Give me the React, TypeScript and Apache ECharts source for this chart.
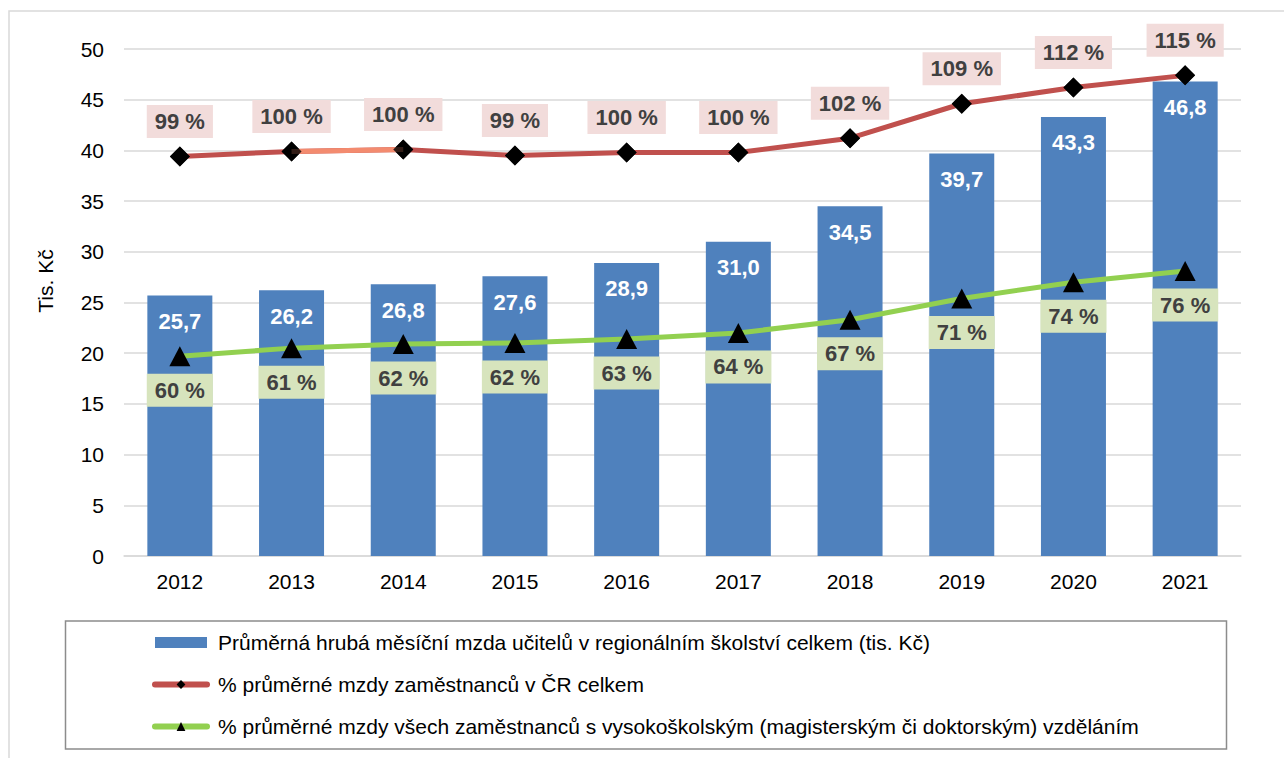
import React, { useEffect, useRef } from "react";
import * as echarts from "echarts";

const years = ["2012", "2013", "2014", "2015", "2016", "2017", "2018", "2019", "2020", "2021"];
const wages = [25.7, 26.2, 26.8, 27.6, 28.9, 31.0, 34.5, 39.7, 43.3, 46.8];
const redValues = [39.4, 39.9, 40.1, 39.5, 39.8, 39.8, 41.2, 44.6, 46.2, 47.4];
const redPct = [99, 100, 100, 99, 100, 100, 102, 109, 112, 115];
const greenValues = [19.7, 20.5, 20.9, 21.0, 21.4, 22.0, 23.3, 25.4, 27.0, 28.1];
const greenPct = [60, 61, 62, 62, 63, 64, 67, 71, 74, 76];
const yTicks = { min: 0, max: 50, interval: 5 };

const barName = "Průměrná hrubá měsíční mzda učitelů v regionálním školství celkem (tis. Kč)";
const redName = "% průměrné mzdy zaměstnanců v ČR celkem";
const greenName = "% průměrné mzdy všech zaměstnanců s vysokoškolským (magisterským či doktorským) vzděláním";
const axisTitle = "Tis. Kč";

const FONT = "'Liberation Sans', Arial, sans-serif";

export default function App() {
  const ref = useRef<HTMLDivElement>(null);
  useEffect(() => {
    if (!ref.current) return;
    const chart = echarts.init(ref.current, undefined, { renderer: "svg" });
    const fmtComma = (v: number) => v.toFixed(1).replace(".", ",");
    const segment = redValues.map((v, i) => (i === 1 || i === 2 ? v : null));
    const labelBase = {
      show: true,
      position: "inside",
      color: "#404040",
      fontWeight: "bold",
      fontSize: 22,
      lineHeight: 22,
      fontFamily: FONT,
      padding: [6, 8, 5, 8],
    };
    chart.setOption({
      animation: false,
      textStyle: { fontFamily: FONT },
      grid: { left: 124, right: 43, top: 49, bottom: 202 },
      graphic: [
        {
          type: "rect",
          shape: { x: 9, y: 11, width: 1300, height: 800 },
          style: { fill: "none", stroke: "#d9d9d9", lineWidth: 1.5 },
          silent: true,
        },
        {
          type: "rect",
          shape: { x: 65.5, y: 621, width: 1161, height: 128 },
          style: { fill: "none", stroke: "#8c8c8c", lineWidth: 1.5 },
          silent: true,
        },
        {
          type: "text",
          x: 45,
          y: 281,
          rotation: Math.PI / 2,
          style: {
            text: axisTitle,
            fill: "#000",
            font: `21px ${FONT}`,
            align: "center",
            verticalAlign: "middle",
          },
        },
      ],
      legend: {
        orient: "vertical",
        left: 152,
        top: 632,
        padding: 0,
        itemWidth: 52,
        itemHeight: 11,
        itemGap: 21,
        textStyle: {
          fontSize: 21,
          color: "#000",
          fontFamily: FONT,
          lineHeight: 21,
          padding: [0, 0, 0, 6],
        },
        data: [
          { name: barName, icon: "rect" },
          { name: redName, lineStyle: { width: 6, cap: "round" } },
          { name: greenName, lineStyle: { width: 6, cap: "round" } },
        ],
      },
      xAxis: {
        type: "category",
        data: years,
        axisLine: { lineStyle: { color: "#d9d9d9", width: 1.5 } },
        axisTick: { show: false },
        axisLabel: { fontSize: 21, color: "#000", margin: 15, fontFamily: FONT },
      },
      yAxis: {
        type: "value",
        min: yTicks.min,
        max: yTicks.max,
        interval: yTicks.interval,
        axisLine: { show: false },
        axisTick: { show: false },
        splitLine: { lineStyle: { color: "#d9d9d9", width: 1.5 } },
        axisLabel: { fontSize: 21, color: "#000", margin: 20, fontFamily: FONT },
      },
      series: [
        {
          name: barName,
          type: "bar",
          data: wages,
          barWidth: 65,
          itemStyle: { color: "#4f81bd" },
          z: 1,
          label: {
            show: true,
            position: "insideTop",
            distance: 15,
            color: "#fff",
            fontWeight: "bold",
            fontSize: 22,
            lineHeight: 22,
            fontFamily: FONT,
            formatter: (p: any) => fmtComma(p.value),
          },
        },
        {
          name: redName,
          type: "line",
          data: redValues,
          z: 3,
          symbol: "diamond",
          symbolSize: 20,
          itemStyle: { color: "#000" },
          lineStyle: { color: "#c0504d", width: 5 },
          label: {
            ...labelBase,
            offset: [0, -35],
            backgroundColor: "#f2dcdb",
            formatter: (p: any) => `${redPct[p.dataIndex]} %`,
          },
        },
        {
          name: "seg",
          type: "line",
          data: segment,
          z: 4,
          symbol: "none",
          silent: true,
          lineStyle: { color: "#f38b6f", width: 5 },
        },
        {
          name: "redMarks",
          type: "scatter",
          data: redValues,
          z: 5,
          symbol: "diamond",
          symbolSize: 20,
          silent: true,
          itemStyle: { color: "#000" },
        },
        {
          name: greenName,
          type: "line",
          data: greenValues,
          z: 3,
          symbol: "triangle",
          symbolSize: [21, 20],
          itemStyle: { color: "#000" },
          lineStyle: { color: "#92d050", width: 5 },
          label: {
            ...labelBase,
            offset: [0, 34],
            backgroundColor: "#d7e4bd",
            formatter: (p: any) => `${greenPct[p.dataIndex]} %`,
          },
        },
      ],
    });
    return () => chart.dispose();
  }, []);
  return (
    <div
      ref={ref}
      style={{ position: "fixed", left: 0, top: 0, width: 1284, height: 758, background: "#fff" }}
    />
  );
}
